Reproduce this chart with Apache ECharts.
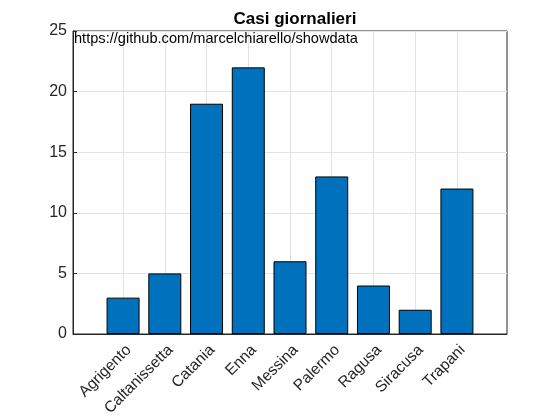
<!DOCTYPE html>
<html><head><meta charset="utf-8">
<script src="https://cdn.jsdelivr.net/npm/echarts@6/dist/echarts.min.js"></script>
<style>html,body{margin:0;padding:0;background:#fff}#c{width:560px;height:420px}</style>
</head><body><div id="c"></div>
<script>
const categories = ['Agrigento','Caltanissetta','Catania','Enna','Messina','Palermo','Ragusa','Siracusa','Trapani'];
const values = [3, 5, 19, 22, 6, 13, 4, 2, 12];
const yTicks = [0, 5, 10, 15, 20, 25];
const titleText = 'Casi giornalieri';
const sourceText = 'https://github.com/marcelchiarello/showdata';

const idx = categories.map((_, i) => i);
const font = 'Liberation Sans, Arial, Helvetica, sans-serif';
const chart = echarts.init(document.getElementById('c'), null, {renderer: 'canvas'});
chart.setOption({
  animation: false,
  backgroundColor: '#fff',
  title: {text: titleText, left: 290, textAlign: 'center', top: 6,
    textStyle: {fontFamily: font, fontSize: 17, fontWeight: 'bold', color: '#000'}},
  grid: {left: 73, right: 53, top: 31, bottom: 86, show: true, borderColor: '#262626', borderWidth: 1, backgroundColor: '#fff'},
  xAxis: {
    type: 'value', min: -1.2, max: categories.length - 1 + 1.2,
    axisLine: {show: true, onZero: false, lineStyle: {color: '#262626', width: 1}},
    axisTick: {show: true, inside: true, length: 4, customValues: idx, lineStyle: {color: '#262626'}},
    axisLabel: {customValues: idx, rotate: 45, margin: 8, verticalAlign: 'top', fontFamily: font, fontSize: 15.5, color: '#262626',
      formatter: v => categories[Math.round(v)] || ''},
    splitLine: {show: true, lineStyle: {color: '#e3e3e3', width: 1}}
  },
  yAxis: {
    type: 'value', min: yTicks[0], max: yTicks[yTicks.length - 1], interval: 5,
    axisLine: {show: true, onZero: false, lineStyle: {color: '#262626', width: 1}},
    axisTick: {show: true, inside: true, length: 4, lineStyle: {color: '#262626'}},
    axisLabel: {margin: 6, fontFamily: font, fontSize: 16, color: '#262626'},
    splitLine: {show: true, lineStyle: {color: '#e3e3e3', width: 1}}
  },
  series: [{
    type: 'bar', barWidth: 33,
    data: values.map((v, i) => [i, v]),
    itemStyle: {color: '#0072BD', borderColor: '#000', borderWidth: 1}
  }],
  graphic: [{type: 'text', left: 74, top: 31, z: 100,
    style: {text: sourceText, fontFamily: font, fontSize: 14.6, fill: '#000'}}]
});
</script></body></html>
